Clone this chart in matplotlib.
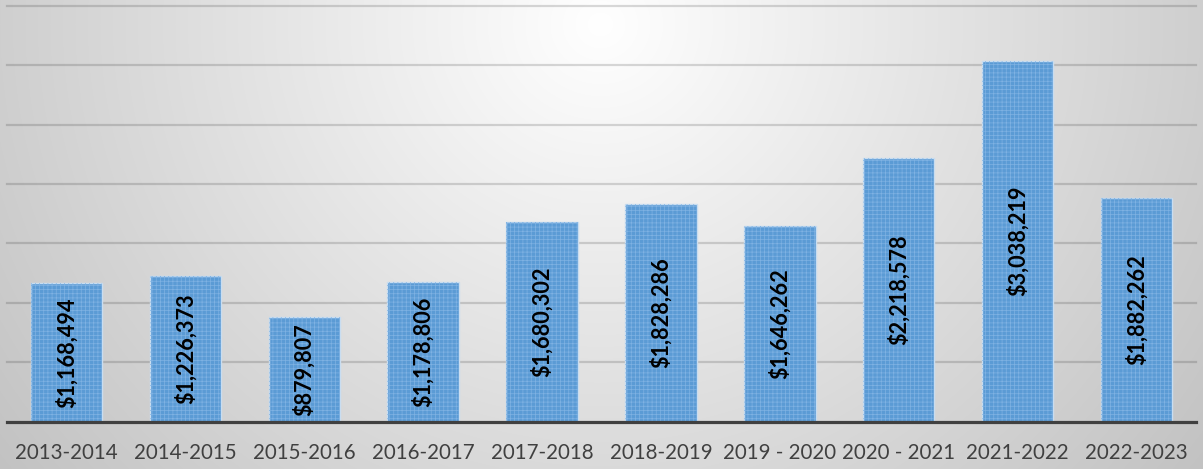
import numpy as np
import matplotlib
matplotlib.use("Agg")
import matplotlib.pyplot as plt

categories = ["2013-2014", "2014-2015", "2015-2016", "2016-2017", "2017-2018",
              "2018-2019", "2019 - 2020", "2020 - 2021", "2021-2022", "2022-2023"]
values = [1168494, 1226373, 879807, 1178806, 1680302,
          1828286, 1646262, 2218578, 3038219, 1882262]
value_labels = ["$1,168,494", "$1,226,373", "$879,807", "$1,178,806", "$1,680,302",
                "$1,828,286", "$1,646,262", "$2,218,578", "$3,038,219", "$1,882,262"]
grid_ticks = [500000, 1000000, 1500000, 2000000, 2500000, 3000000, 3500000]

W, H = 1203, 469
fig = plt.figure(figsize=(W / 100, H / 100), dpi=100)

# radial gradient background
bg = fig.add_axes([0, 0, 1, 1])
yy, xx = np.mgrid[0:H, 0:W]
d = np.sqrt((xx - 600.0) ** 2 + ((yy - 25.0) * 1.05) ** 2)
val = 255 - 48 * (d / 600.0)
val = np.clip(val, 185, 255) / 255.0
img = np.dstack([val, val, val])
bg.imshow(img, aspect="auto", extent=[0, 1, 0, 1], origin="upper")
bg.set_axis_off()

left = 7 / W
right = 1196 / W
bottom = (H - 421.7) / H
top = (H - 5.8) / H
ax = fig.add_axes([left, bottom, right - left, top - bottom])
ax.patch.set_alpha(0)

x = np.arange(len(categories))
ax.set_xlim(-0.5, len(categories) - 0.5)
ax.set_ylim(0, 3500000)

for g in grid_ticks:
    ax.axhline(g, color="black", alpha=0.15, lw=1.6, zorder=1, clip_on=False)

ax.bar(x, values, width=0.6, color="#5b9bd5", edgecolor="#c9ddf0",
       linewidth=1.0, zorder=2)
plt.rcParams["hatch.linewidth"] = 0.5
ax.bar(x, values, width=0.6, color="none", edgecolor="#7fb2e3",
       hatch="++++", linewidth=0, zorder=3)

for xi, v, lab in zip(x, values, value_labels):
    ax.text(xi, v / 2, lab, rotation=90, ha="center", va="center",
            fontsize=15.6, fontweight="bold", family=["Lato", "DejaVu Sans"],
            color="black", zorder=4)

for s in ["top", "left", "right"]:
    ax.spines[s].set_visible(False)
ax.spines["bottom"].set_color("#404040")
ax.spines["bottom"].set_linewidth(2.3)
ax.spines["bottom"].set_zorder(5)
ax.set_yticks([])
ax.set_xticks(x)
ax.set_xticklabels(categories, fontsize=14.8, color="#404040",
                   family=["Lato", "DejaVu Sans"])
ax.tick_params(axis="x", length=0, pad=15)

fig.savefig("out.png", dpi=100)
